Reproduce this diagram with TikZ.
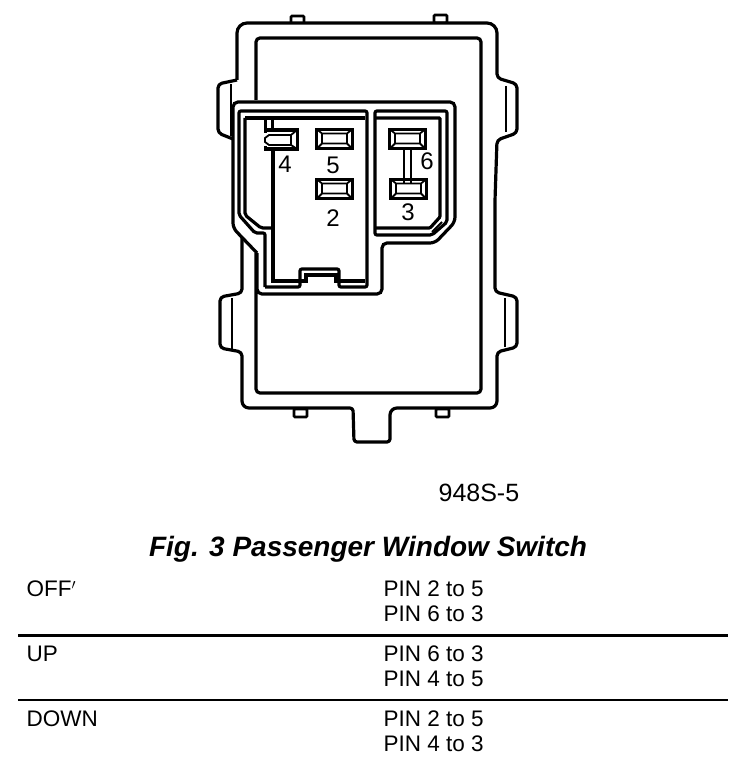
\documentclass[tikz,border=0pt]{standalone}
\usepackage{fontspec}
\setmainfont{Liberation Sans}
\usetikzlibrary{positioning}
\tikzset{every picture/.style={line width=3.2pt},
	pinbox/.style={draw,line width=3.6pt,minimum width=36pt,minimum height=19pt,inner sep=0pt},
	pinlabel/.style={font=\fontsize{24}{24}\selectfont,inner sep=0pt},
	rowtext/.style={font=\fontsize{22.5}{22.5}\selectfont,anchor=west,inner sep=0pt},
	thinline/.style={line width=1.8pt}}

\begin{document}
\begin{tikzpicture}[x=1pt,y=-1pt]
			\useasboundingbox (0,0) rectangle (752,762);
			% small tabs
			\foreach \tabx/\taby in {291/16,434/15,294/409,436/409}{
				\draw [line width=2.6pt,rounded corners=1pt] (\tabx,\taby) rectangle ++(13,8);
			}
			% housing
			\draw [fill=white,rounded corners=10pt,line join=round] (237,80) -- (237,23) -- (497,23) [rounded corners=4pt] -- (497,78) -- (517,84) -- (517,133) -- (497,140) -- (495,200) -- (495,292) -- (517,297) -- (517,347) -- (497,352) [rounded corners=7pt] -- (497,408) -- (390,408) [rounded corners=3pt] -- (390,442) -- (354,442) -- (353,408) [rounded corners=7pt] -- (242,408) [rounded corners=4pt] -- (242,352) -- (220,348) -- (220,297) -- (242,293) -- (242,238);
			\draw [rounded corners=4pt] (237,80) -- (218,84) -- (218,133) -- (233,139);
			\draw [thinline] (231,84) -- (231,136);
			\draw [thinline] (232,298) -- (232,349);
			\draw [thinline] (506,86) -- (506,132);
			\draw [thinline] (505,298) -- (505,347);
			% inner wall
			\draw [rounded corners=4pt] (256,100) -- (256,38) -- (481,38) -- (481,393) -- (256,393) -- (256,253);
			% panel
			\draw [rounded corners=5pt] (257,253) -- (233,228) -- (233,102) -- (455,102) -- (455,222) -- (435,243) -- (382,243) -- (382,294) -- (257,294) -- (257,253);
			% left bay
			\draw [rounded corners=2pt] (265,287) -- (265,233) -- (255,233) -- (239,215) -- (239,111) -- (367,111) -- (367,287) -- (339,287) -- (339,269) -- (300,269) -- (300,287) -- (265,287);
			\draw (245,118) -- (365,118);
			\draw [rounded corners=2pt] (245,118) -- (245,215) -- (261,228) -- (273,228);
			\draw (273,150) -- (273,281) -- (306,281) -- (306,275) -- (336,275) -- (336,281) -- (365,281);
			\draw [line width=2.6pt] (265.5,118) -- (265.5,131);
			\draw [line width=2.6pt] (272.5,118) -- (272.5,131);
			% right bay
			\draw [rounded corners=2pt] (375,235) -- (375,111) -- (447,111) -- (447,222) -- (432,235) -- cycle;
			\draw [rounded corners=1pt] (375,118) -- (440,118) -- (440,217) -- (430,228) -- (375,228);
			\draw [thinline] (432,232) -- (442,222);
			% terminals
			\foreach \pinname/\pinx/\piny in {5/334.5/139,2/334.5/189,6/407.5/139,3/408.5/189}{
				\node [pinbox] (pin\pinname) at (\pinx,\piny) {};
				\draw [thinline] (\pinx-18,\piny-10) -- (\pinx-12.5,\piny-5.5) -- (\pinx+12.5,\piny-5.5) -- (\pinx+18,\piny-10);
				\draw [thinline] (\pinx-18,\piny+10) -- (\pinx-12.5,\piny+4.5) -- (\pinx+12.5,\piny+4.5) -- (\pinx+18,\piny+10);
				\draw [thinline] (\pinx-12.5,\piny-5.5) -- (\pinx-12.5,\piny+4.5);
				\draw [thinline] (\pinx+12.5,\piny-5.5) -- (\pinx+12.5,\piny+4.5);
			}
			\node [pinbox,minimum width=32pt] (pin4) at (281.5,139.5) {};
			\draw [white,line width=6pt] (265.5,133) -- (265.5,146);
			\draw [thinline] (265,138) -- (269,135) -- (291,135) -- (291,145) -- (269,145) -- (265,142) -- cycle;
			\draw [thinline] (291,135) -- (297,130);
			\draw [thinline] (291,145) -- (297,149);
			% link between 6 and 3
			\draw [line width=2.6pt] ([xshift=-3.5pt]pin6.south) -- ([xshift=-4.5pt,yshift=-5pt]pin3.north);
			\draw [line width=2.6pt] ([xshift=3.5pt]pin6.south) -- ([xshift=2.5pt,yshift=-5pt]pin3.north);
			% pin numbers
			\node [pinlabel] (num4) at (285,164) {4};
			\node [pinlabel] (num5) at (333,165) {5};
			\node [pinlabel] (num2) at (333,218) {2};
			\node [pinlabel] (num6) at (427,161) {6};
			\node [pinlabel] (num3) at (408,212) {3};
			% caption
			\node [pinlabel,font=\fontsize{25}{25}\selectfont,anchor=west] (partno) at (437,493) {948S-5};
			\node [font=\fontsize{28}{28}\selectfont\bfseries\itshape,inner sep=0pt] (title) at (368,549) {Fig. 3 Passenger Window Switch};
			% table
			\node [rowtext] (off) at (25,589) {OFF$'$};
			\node [rowtext] (offa) at (382,589) {PIN 2 to 5};
			\node [rowtext,below=25pt of offa.west,anchor=west] (offb) {PIN 6 to 3};
			\coordinate (ruleal) at (18,635.5);
			\coordinate (rulear) at (728,635.5);
			\draw [line width=3.5pt] (ruleal) -- (rulear);
			\node [rowtext] (up) at (25,653.5) {UP};
			\node [rowtext] (upa) at (382,653.5) {PIN 6 to 3};
			\node [rowtext,below=25pt of upa.west,anchor=west] (upb) {PIN 4 to 5};
			\coordinate (rulebl) at (18,700);
			\coordinate (rulebr) at (728,700);
			\draw [line width=2.4pt] (rulebl) -- (rulebr);
			\node [rowtext] (down) at (25,718.5) {DOWN};
			\node [rowtext] (downa) at (382,718.5) {PIN 2 to 5};
			\node [rowtext,below=25pt of downa.west,anchor=west] (downb) {PIN 4 to 3};
		\end{tikzpicture}
\end{document}
